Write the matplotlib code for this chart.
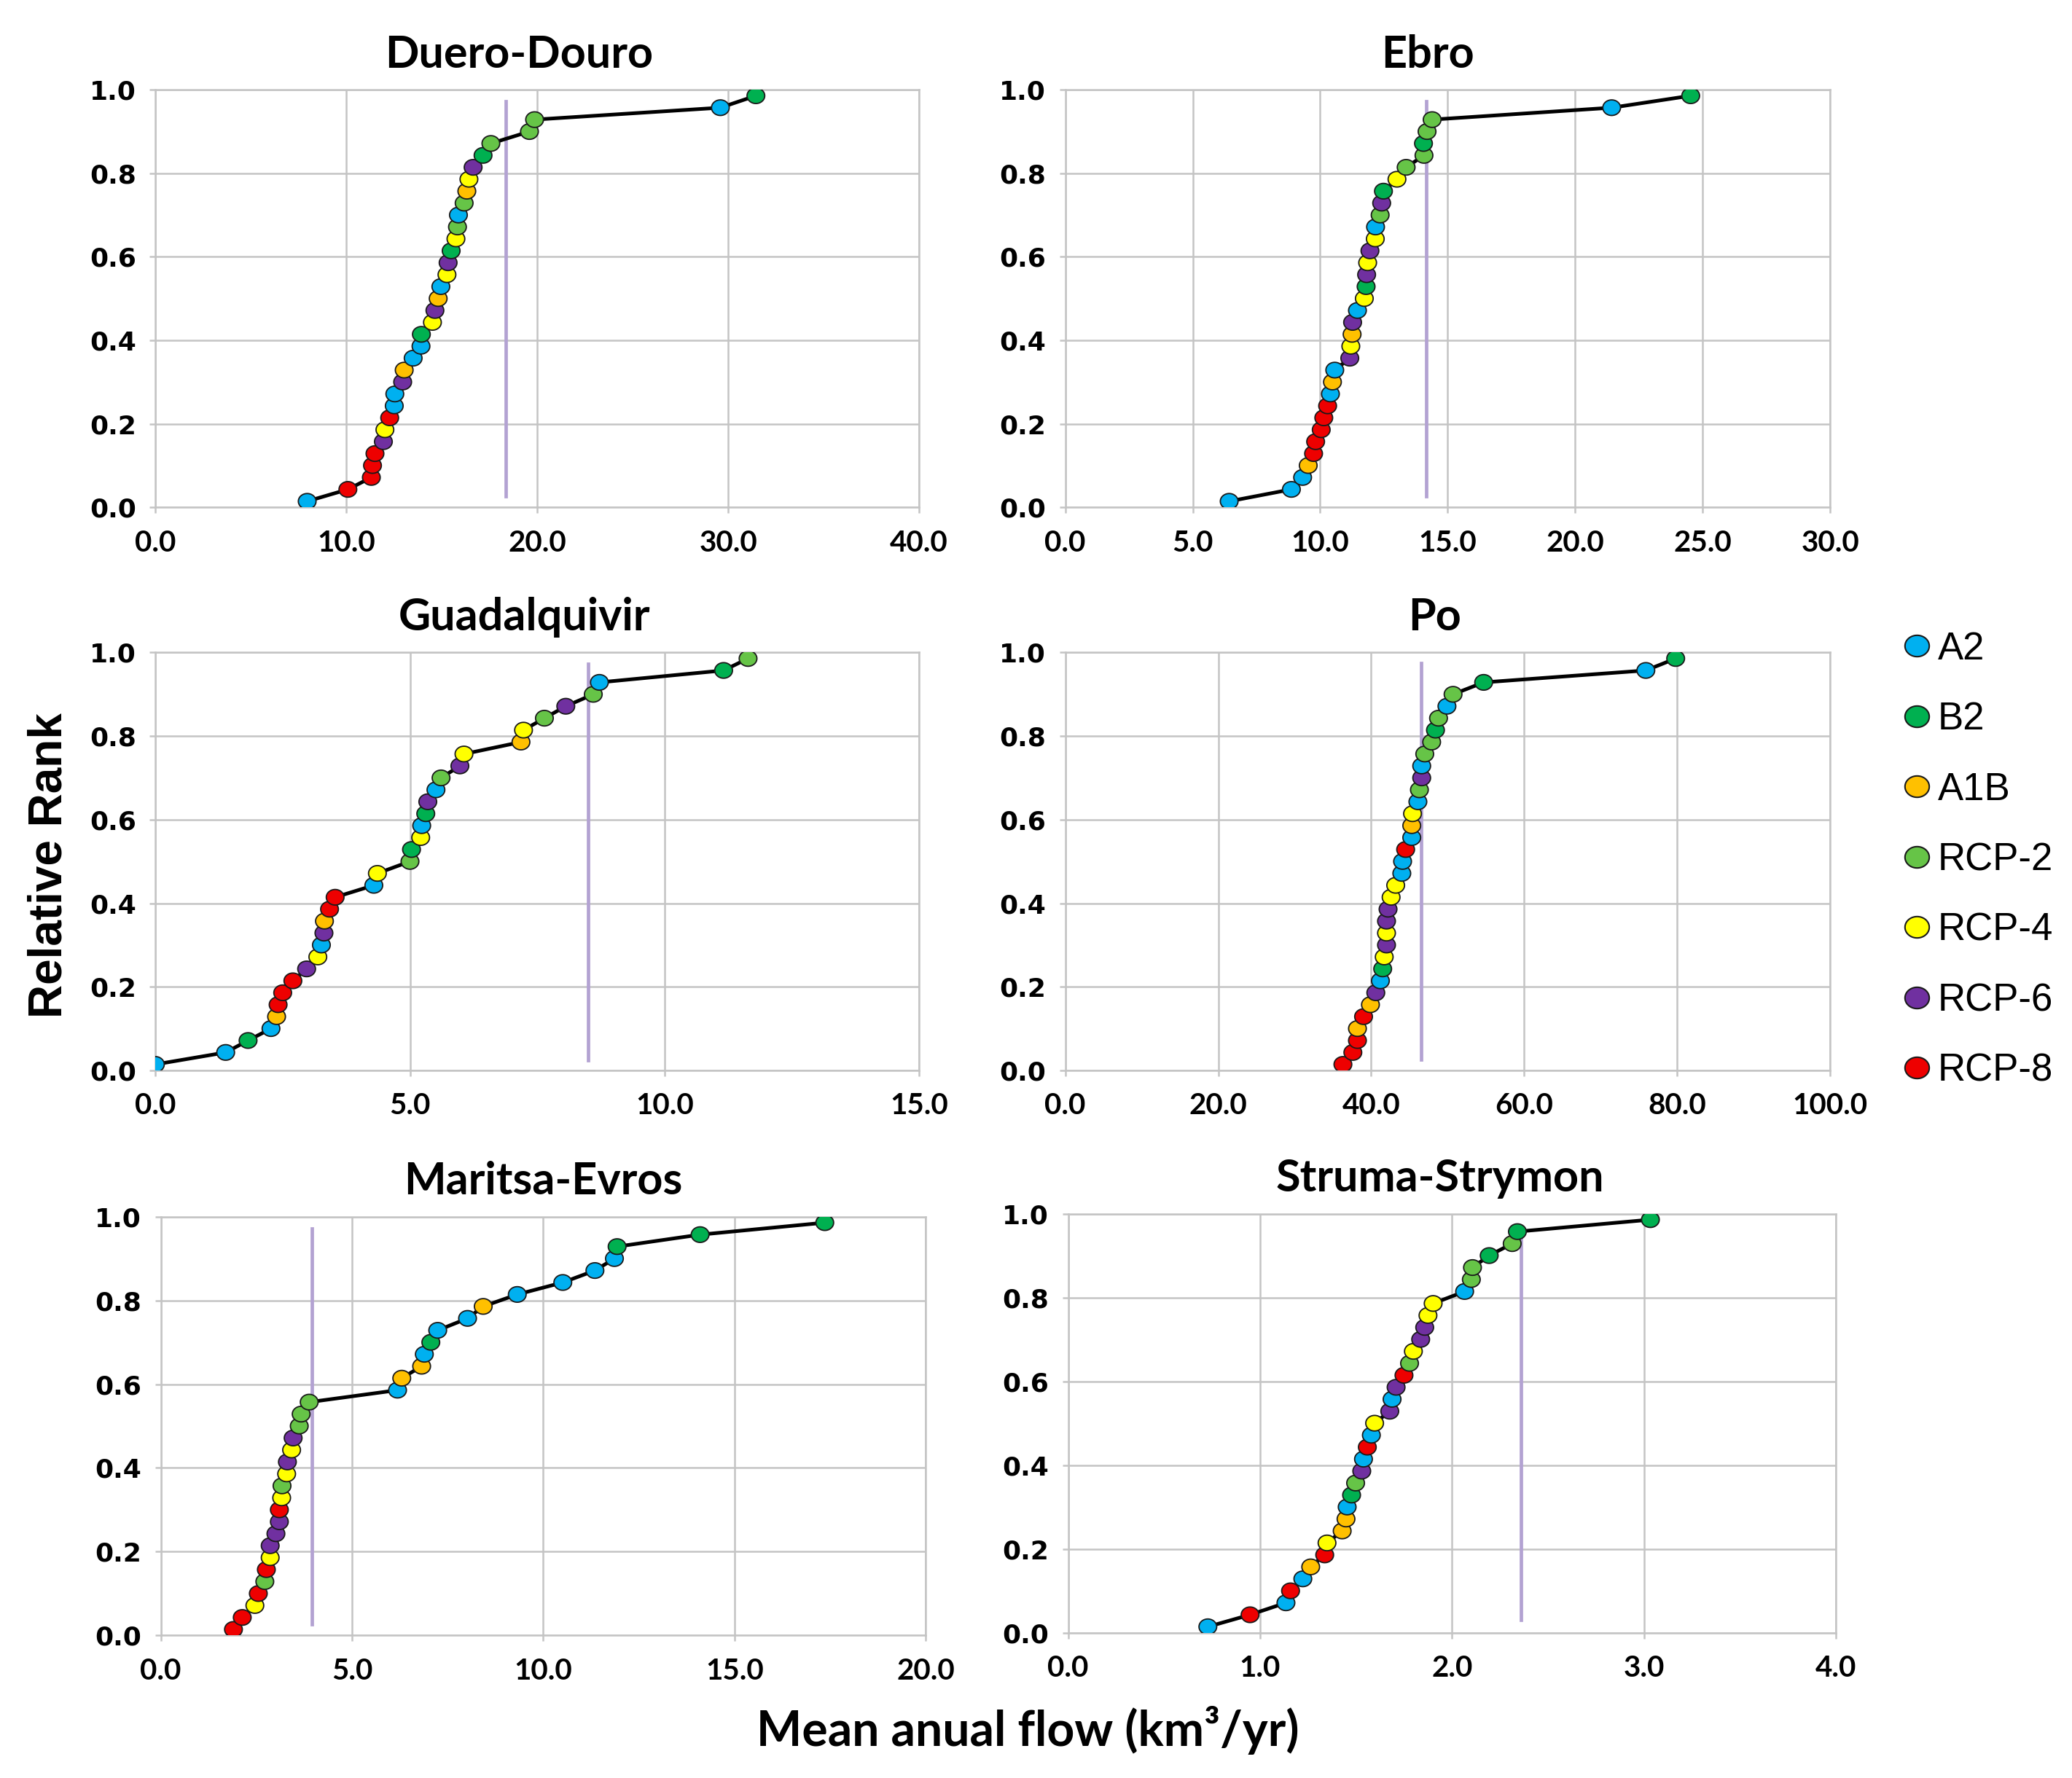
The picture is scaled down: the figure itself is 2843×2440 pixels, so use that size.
import numpy as np
import matplotlib
matplotlib.use("Agg")
import matplotlib.pyplot as plt
from matplotlib.lines import Line2D
from matplotlib.path import Path

# scenario order and colours (legend order)
scenarios = ["A2", "B2", "A1B", "RCP-2", "RCP-4", "RCP-6", "RCP-8"]
scen_colors = ["#00b0f0", "#00b050", "#ffc000", "#66c447", "#ffff00", "#7030a0", "#ee0000"]
short = {"A2": "A2", "B2": "B2", "A1B": "A1B", "R2": "RCP-2", "R4": "RCP-4", "R6": "RCP-6", "R8": "RCP-8"}

basins = ["Duero-Douro", "Ebro", "Guadalquivir", "Po", "Maritsa-Evros", "Struma-Strymon"]

# mean annual flow (km3/yr), sorted, one point per scenario run
duero_flow = [7.95, 10.08, 11.31, 11.37, 11.50, 11.94, 12.02, 12.27, 12.51, 12.54, 12.95, 13.03,
              13.50, 13.91, 13.93, 14.51, 14.64, 14.81, 14.95, 15.27, 15.33, 15.49, 15.74, 15.82,
              15.87, 16.17, 16.31, 16.42, 16.64, 17.16, 17.57, 19.59, 19.86, 29.59, 31.45]
duero_scen = ["A2", "R8", "R8", "R8", "R8", "R6", "R4", "R8", "A2", "A2", "R6", "A1B",
              "A2", "A2", "B2", "R4", "R6", "A1B", "A2", "R4", "R6", "B2", "R4", "R2",
              "A2", "R2", "A1B", "R4", "R6", "B2", "R2", "R2", "R2", "A2", "B2"]

ebro_flow = [6.43, 8.87, 9.31, 9.53, 9.74, 9.82, 10.04, 10.14, 10.29, 10.40, 10.48, 10.57,
             11.16, 11.20, 11.25, 11.27, 11.46, 11.73, 11.80, 11.82, 11.86, 11.95, 12.16, 12.17,
             12.35, 12.41, 12.48, 13.01, 13.37, 14.07, 14.05, 14.19, 14.39, 21.43, 24.53]
ebro_scen = ["A2", "A2", "A2", "A1B", "R8", "R8", "R8", "R8", "R8", "A2", "A1B", "A2",
             "R6", "R4", "A1B", "R6", "A2", "R4", "B2", "R6", "R4", "R6", "R4", "A2",
             "R2", "R6", "B2", "R4", "R2", "R2", "B2", "R2", "R2", "A2", "B2"]

guad_flow = [0.0, 1.38, 1.82, 2.27, 2.38, 2.41, 2.50, 2.70, 2.97, 3.19, 3.26, 3.31,
             3.32, 3.42, 3.53, 4.29, 4.36, 5.00, 5.03, 5.21, 5.23, 5.31, 5.35, 5.51,
             5.61, 5.98, 6.06, 7.18, 7.23, 7.64, 8.06, 8.60, 8.72, 11.16, 11.64]
guad_scen = ["A2", "A2", "B2", "A2", "A1B", "R8", "R8", "R8", "R6", "R4", "A2", "R6",
             "A1B", "R8", "R8", "A2", "R4", "R2", "B2", "R4", "A2", "B2", "R6", "A2",
             "R2", "R6", "R4", "A1B", "R4", "R2", "R6", "R2", "A2", "B2", "R2"]

po_flow = [36.3, 37.6, 38.2, 38.2, 39.0, 39.9, 40.6, 41.2, 41.5, 41.7, 42.0, 42.0,
           42.0, 42.2, 42.6, 43.2, 44.0, 44.1, 44.5, 45.3, 45.3, 45.4, 46.1, 46.3,
           46.6, 46.6, 47.0, 47.9, 48.4, 48.8, 49.9, 50.7, 54.7, 75.9, 79.8]
po_scen = ["R8", "R8", "R8", "A1B", "R8", "A1B", "R6", "A2", "B2", "R4", "R6", "R4",
           "R6", "R6", "R4", "R4", "A2", "A2", "R8", "A2", "A1B", "R4", "A2", "R2",
           "R6", "A2", "R2", "R2", "B2", "R2", "A2", "R2", "B2", "A2", "B2"]

maritsa_flow = [1.90, 2.13, 2.46, 2.55, 2.72, 2.76, 2.86, 2.86, 3.01, 3.10, 3.10, 3.16,
                3.17, 3.29, 3.31, 3.42, 3.46, 3.62, 3.67, 3.88, 6.19, 6.30, 6.82, 6.89,
                7.06, 7.24, 8.02, 8.43, 9.32, 10.51, 11.35, 11.86, 11.93, 14.10, 17.36]
maritsa_scen = ["R8", "R8", "R4", "R8", "R2", "R8", "R4", "R6", "R6", "R6", "R8", "R4",
                "R2", "R4", "R6", "R4", "R6", "R2", "R2", "R2", "A2", "A1B", "A1B", "A2",
                "B2", "A2", "A2", "A1B", "A2", "A2", "A2", "A2", "B2", "B2", "B2"]

struma_flow = [0.728, 0.948, 1.135, 1.159, 1.223, 1.264, 1.337, 1.349, 1.428, 1.448, 1.454, 1.477,
               1.498, 1.530, 1.539, 1.559, 1.580, 1.597, 1.676, 1.688, 1.709, 1.750, 1.779, 1.799,
               1.837, 1.858, 1.875, 1.902, 2.066, 2.101, 2.107, 2.194, 2.314, 2.341, 3.034]
struma_scen = ["A2", "R8", "A2", "R8", "A2", "A1B", "R8", "R4", "A1B", "A1B", "A2", "B2",
               "R2", "R6", "A2", "R8", "A2", "R4", "R6", "A2", "R6", "R8", "R2", "R4",
               "R6", "R6", "R4", "R4", "A2", "R2", "R2", "B2", "R2", "B2", "B2"]

# historical reference flow (purple vertical line) and its extent in rank
ref_flow = [18.36, 14.15, 8.50, 46.5, 3.95, 2.36]
ref_lo = [0.026, 0.026, 0.025, 0.026, 0.027, 0.03]
ref_hi = [0.972, 0.972, 0.973, 0.974, 0.971, 0.955]

x_ticks = [[0, 10, 20, 30, 40], [0, 5, 10, 15, 20, 25, 30], [0, 5, 10, 15],
           [0, 20, 40, 60, 80, 100], [0, 5, 10, 15, 20], [0, 1, 2, 3, 4]]
y_ticks = [0.0, 0.2, 0.4, 0.6, 0.8, 1.0]

flows = [duero_flow, ebro_flow, guad_flow, po_flow, maritsa_flow, struma_flow]
scens = [duero_scen, ebro_scen, guad_scen, po_scen, maritsa_scen, struma_scen]

# axes rectangles [left, bottom, width, height]
rects = [[0.075, 0.7147, 0.3686, 0.2348], [0.5141, 0.7147, 0.3692, 0.2348],
         [0.075, 0.398, 0.3686, 0.2350], [0.5141, 0.398, 0.3692, 0.2350],
         [0.0776, 0.0802, 0.3692, 0.2355], [0.5155, 0.0817, 0.3705, 0.2357]]
title_x = [0.476, 0.474, 0.483, 0.483, 0.5, 0.484]

# slightly wide ellipse marker, like the stretched original
t = np.linspace(0, 2 * np.pi, 61)
ell = Path(np.column_stack([np.cos(t), 0.88 * np.sin(t)]), closed=True)

color_of = dict(zip(scenarios, scen_colors))
grid_c = "#c4c4c4"

fig = plt.figure(figsize=(28.43, 24.40), dpi=100)

for k, name in enumerate(basins):
    ax = fig.add_axes(rects[k])
    x = np.array(flows[k])
    n = len(x)
    rank = (np.arange(n) + 0.5) / n
    cols = [color_of[short[s]] for s in scens[k]]

    ax.plot([ref_flow[k], ref_flow[k]], [ref_lo[k], ref_hi[k]], color="#b3a2d2", lw=3.4, zorder=2)
    ax.plot(x, rank, color="black", lw=3.6, zorder=3)
    ax.scatter(x, rank, s=17.5 ** 2, marker=ell, c=cols, edgecolors="#1a1a1a", linewidths=1.3, zorder=4)

    xt = x_ticks[k]
    ax.set_xlim(xt[0], xt[-1])
    ax.set_ylim(0, 1)
    ax.set_xticks(xt, [f"{v:.1f}" for v in xt], family="Lato", fontweight="bold", fontsize=29)
    ax.set_yticks(y_ticks, [f"{v:.1f}" for v in y_ticks], family="DejaVu Sans", fontweight="bold", fontsize=26)
    ax.tick_params(axis="x", length=6, width=1.8, color=grid_c, pad=16)
    ax.tick_params(axis="y", length=6, width=1.8, color=grid_c, pad=13)
    ax.grid(True, color=grid_c, lw=1.8, zorder=0)
    ax.set_axisbelow(True)
    for sp in ax.spines.values():
        sp.set_color(grid_c)
        sp.set_linewidth(1.8)
    ax.set_title(name, x=title_x[k], family="Lato", fontweight="bold", fontsize=44, pad=22)

fig.text(0.0237, 0.5134, "Relative Rank", rotation=90, ha="center", va="center",
         family="Liberation Sans", fontweight="bold", fontsize=46)
fig.text(0.496, 0.0267, "Mean anual flow (km³/yr)", ha="center", va="center",
         family="Lato", fontweight="bold", fontsize=47.5)

handles = [Line2D([], [], ls="none", marker=ell, markersize=24, markerfacecolor=c,
                  markeredgecolor="#1a1a1a", markeredgewidth=1.5) for c in scen_colors]
fig.legend(handles, scenarios, loc="center left", bbox_to_anchor=(0.9176, 0.5163),
           frameon=False, prop={"family": "Liberation Sans", "size": 38},
           handlelength=0.8, handletextpad=0.15, labelspacing=0.88, borderpad=0, borderaxespad=0)

fig.savefig("out.png", dpi=100)
